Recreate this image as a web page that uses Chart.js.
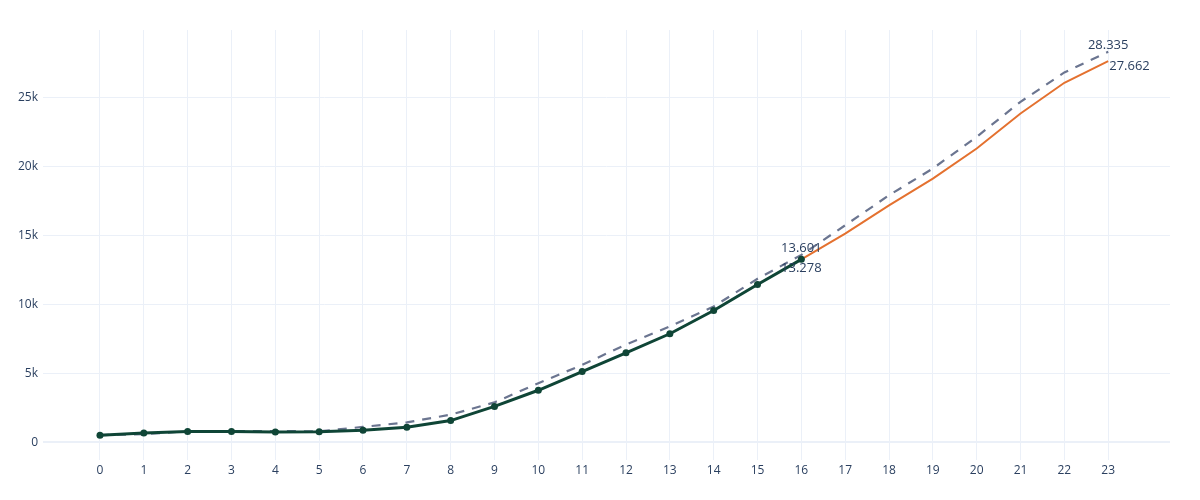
<!DOCTYPE html>
<html>
<head>
<meta charset="utf-8">
<script src="https://cdn.jsdelivr.net/npm/chart.js@4/dist/chart.umd.min.js"></script>
<style>
  html, body { margin: 0; padding: 0; background: #fff; }
</style>
</head>
<body>
<canvas id="chart" width="1200" height="500"></canvas>
<script>
// Datos
const xTicks = [0,1,2,3,4,5,6,7,8,9,10,11,12,13,14,15,16,17,18,19,20,21,22,23];
const yTicks = [0, 5000, 10000, 15000, 20000, 25000];

const realX = [0,1,2,3,4,5,6,7,8,9,10,11,12,13,14,15,16];
const realY = [510, 680, 780, 780, 760, 770, 870, 1090, 1580, 2610, 3780, 5140, 6500, 7880, 9570, 11460, 13278];

const forecastX = [16,17,18,19,20,21,22,23];
const forecastY = [13278, 15150, 17200, 19140, 21320, 23860, 26090, 27662];

const trendX = xTicks;
const trendY = [520, 600, 800, 820, 820, 800, 1120, 1450, 2010, 2900, 4290, 5620, 7100, 8410, 9860, 11870, 13601, 15750, 17930, 19870, 22170, 24710, 26840, 28335];

const textColor = "#2a3f5f";
const gridColor = "#ebf0f8";
const font = { family: "'Open Sans', Verdana, Arial, sans-serif", size: 12 };

function toPoints(xs, ys) {
  return xs.map((x, i) => ({ x: x, y: ys[i] }));
}

function fmt(v) {
  return v.toLocaleString("de-DE");
}

// Etiquetas de texto en los puntos finales
const endLabels = {
  id: "endLabels",
  afterDatasetsDraw(chart) {
    const ctx = chart.ctx;
    const sx = chart.scales.x, sy = chart.scales.y;
    const items = [
      { x: trendX[16], y: trendY[16], dx: 0, dy: -7, align: "center" },
      { x: realX[16], y: realY[16], dx: 0, dy: 9, align: "center" },
      { x: trendX[23], y: trendY[23], dx: 0, dy: -7, align: "center" },
      { x: forecastX[7], y: forecastY[7], dx: 1, dy: 5, align: "left" }
    ];
    ctx.save();
    ctx.font = "13px " + font.family;
    ctx.fillStyle = textColor;
    ctx.textBaseline = "middle";
    items.forEach(it => {
      ctx.textAlign = it.align;
      ctx.fillText(fmt(it.y), sx.getPixelForValue(it.x) + it.dx, sy.getPixelForValue(it.y) + it.dy);
    });
    ctx.restore();
  }
};

new Chart(document.getElementById("chart"), {
  type: "line",
  data: {
    datasets: [
      {
        label: "real",
        data: toPoints(realX, realY),
        borderColor: "#0f4536",
        backgroundColor: "#0f4536",
        borderWidth: 3,
        pointRadius: 3.5,
        pointBorderWidth: 0,
        order: 1
      },
      {
        label: "forecast",
        data: toPoints(forecastX, forecastY),
        borderColor: "#e4712f",
        borderWidth: 2,
        pointRadius: 0,
        order: 2
      },
      {
        label: "trend",
        data: toPoints(trendX, trendY),
        borderColor: "#6b7590",
        borderWidth: 2.2,
        borderDash: [9, 8],
        pointRadius: 0,
        order: 3
      }
    ]
  },
  options: {
    responsive: false,
    animation: false,
    devicePixelRatio: 1,
    layout: { padding: { top: 30, right: 30, left: 0, bottom: 0 } },
    plugins: {
      legend: { display: false },
      tooltip: { enabled: false }
    },
    scales: {
      x: {
        type: "linear",
        min: -1.3,
        max: 24.41,
        afterBuildTicks: s => { s.ticks = xTicks.map(v => ({ value: v })); },
        afterFit: s => { s.height = 40; },
        grid: { color: gridColor, drawTicks: false },
        border: { display: false },
        ticks: { color: textColor, font: font, padding: 3, maxRotation: 0, autoSkip: false }
      },
      y: {
        min: -1280,
        max: 29920,
        afterBuildTicks: s => { s.ticks = yTicks.map(v => ({ value: v })); },
        afterFit: s => { s.width = 43; },
        grid: {
          color: gridColor,
          lineWidth: c => (c.tick && c.tick.value === 0 ? 2 : 1),
          drawTicks: false
        },
        border: { display: false },
        ticks: {
          color: textColor,
          font: font,
          padding: 5,
          callback: v => (v === 0 ? "0" : (v / 1000) + "k")
        }
      }
    }
  },
  plugins: [endLabels]
});
</script>
</body>
</html>
